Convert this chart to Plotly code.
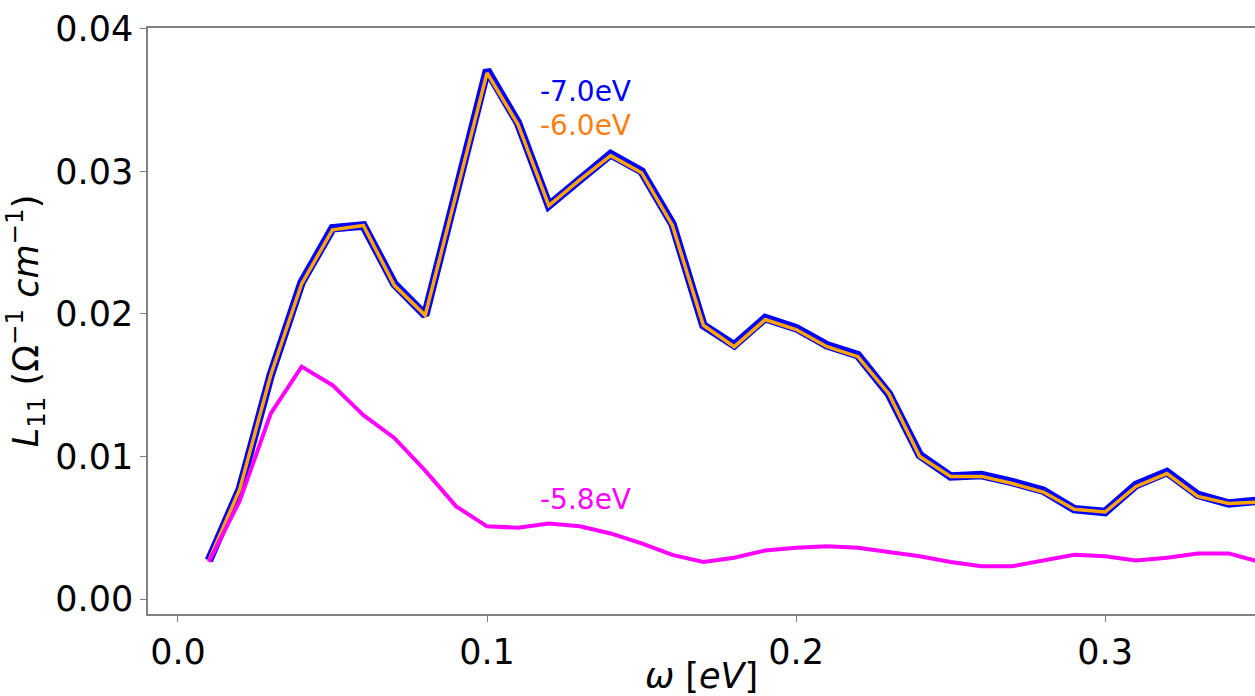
import plotly.graph_objects as go

omega = [0.01, 0.02, 0.03, 0.04, 0.05, 0.06, 0.07, 0.08, 0.09, 0.10,
         0.11, 0.12, 0.13, 0.14, 0.15, 0.16, 0.17, 0.18, 0.19, 0.20,
         0.21, 0.22, 0.23, 0.24, 0.25, 0.26, 0.27, 0.28, 0.29, 0.30,
         0.31, 0.32, 0.33, 0.34, 0.35]

L11_m70 = [0.0027, 0.0077, 0.0157, 0.0222, 0.0260, 0.0262, 0.0221, 0.0199, 0.0285, 0.0371,
           0.0334, 0.0276, 0.0294, 0.0312, 0.0300, 0.0263, 0.0192, 0.0178, 0.0197, 0.0190,
           0.0178, 0.0171, 0.0144, 0.0101, 0.0086, 0.0087, 0.0082, 0.0076, 0.0063, 0.0061,
           0.0080, 0.0089, 0.0073, 0.0067, 0.0069]

L11_m60 = [0.0027, 0.0077, 0.0157, 0.0221, 0.0259, 0.0262, 0.0220, 0.0199, 0.0284, 0.0369,
           0.0333, 0.0276, 0.0294, 0.0311, 0.0299, 0.0262, 0.0192, 0.0177, 0.0196, 0.0189,
           0.0177, 0.0170, 0.0144, 0.0100, 0.0086, 0.0086, 0.0081, 0.0075, 0.0063, 0.0061,
           0.0079, 0.0088, 0.0072, 0.0067, 0.0068]

L11_m58 = [0.0026, 0.0069, 0.0130, 0.0163, 0.0150, 0.0129, 0.0113, 0.0090, 0.0065, 0.0051,
           0.0050, 0.0053, 0.0051, 0.0046, 0.0039, 0.0031, 0.0026, 0.0029, 0.0034, 0.0036,
           0.0037, 0.0036, 0.0033, 0.0030, 0.0026, 0.0023, 0.0023, 0.0027, 0.0031, 0.0030,
           0.0027, 0.0029, 0.0032, 0.0032, 0.0026]

labels = ["-7.0eV", "-6.0eV", "-5.8eV"]
label_x = [0.1165, 0.1165, 0.1165]
label_y = [0.0356, 0.0332, 0.0070]
label_colors = ["#0000ff", "#ff7f0e", "#ff00ff"]

x_ticks = [0.0, 0.1, 0.2, 0.3]
y_ticks = [0.00, 0.01, 0.02, 0.03, 0.04]

FONT = "DejaVu Sans"

fig = go.Figure()
fig.add_trace(go.Scatter(x=omega, y=L11_m70, mode="lines",
                         line=dict(color="#0000ff", width=8.5), showlegend=False))
fig.add_trace(go.Scatter(x=omega, y=L11_m60, mode="lines",
                         line=dict(color="#ffa500", width=3.5), showlegend=False))
fig.add_trace(go.Scatter(x=omega, y=L11_m58, mode="lines",
                         line=dict(color="#ff00ff", width=4), showlegend=False))

for t, xx, yy, c in zip(labels, label_x, label_y, label_colors):
    fig.add_annotation(x=xx, y=yy, text=t, showarrow=False, xanchor="left",
                       yanchor="middle", font=dict(family=FONT, size=28, color=c))

axis_common = dict(showgrid=False, zeroline=False, showline=True, linecolor="#808080",
                   linewidth=1.5, ticks="outside", ticklen=6, tickcolor="#808080",
                   tickwidth=1.2, automargin=False,
                   tickfont=dict(family=FONT, size=35, color="black"))

fig.update_xaxes(range=[-0.0097, 0.3485], tickvals=x_ticks, tickformat=".1f",
                 mirror=True,
                 title=dict(text="<i>ω</i> [<i>eV</i>]", font=dict(family=FONT, size=35, color="black"),
                            standoff=2),
                 **axis_common)
fig.update_yaxes(range=[-0.00105, 0.04005], tickvals=y_ticks, tickformat=".2f",
                 mirror=False,
                 title=dict(text="<i>L</i><sub>11</sub> (Ω<sup>−1</sup> <i>cm</i><sup>−1</sup>)",
                            font=dict(family=FONT, size=35, color="black"), standoff=10),
                 **axis_common)

fig.update_layout(width=1255, height=696, margin=dict(l=148, r=0, t=28, b=82, autoexpand=False),
                  plot_bgcolor="white", paper_bgcolor="white")

fig.write_html("out.html", config={"displayModeBar": False},
               post_script="document.body.style.margin='0';document.body.style.overflow='hidden';")
